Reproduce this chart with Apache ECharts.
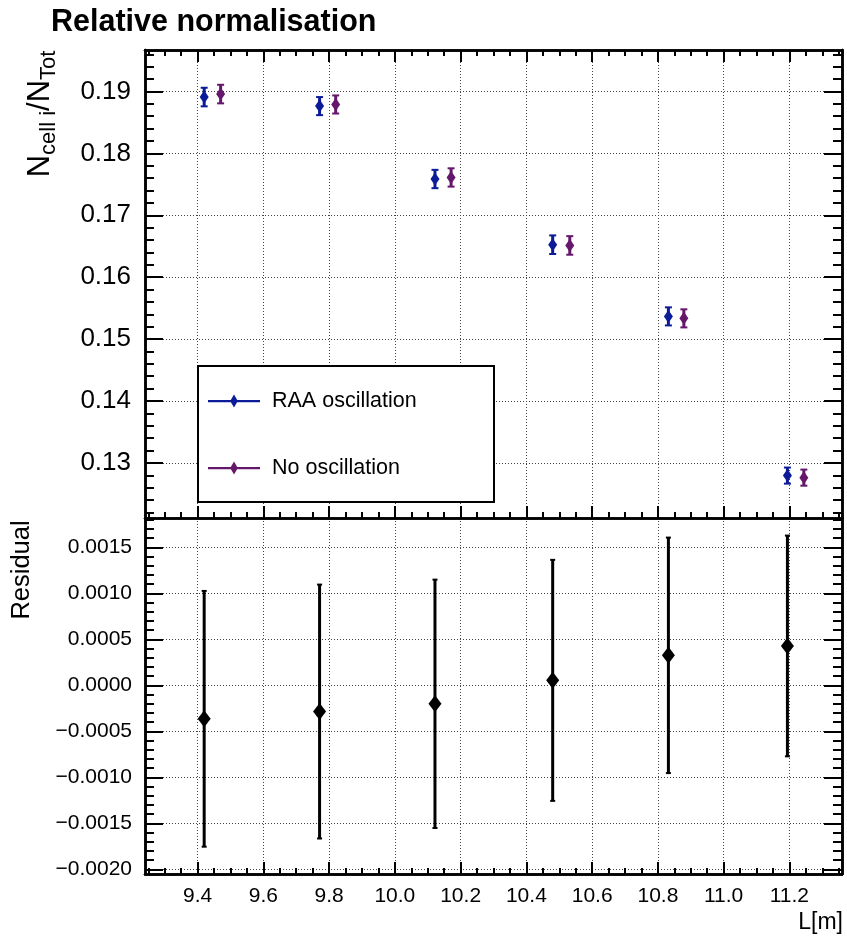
<!DOCTYPE html>
<html><head><meta charset="utf-8">
<script src="https://cdn.jsdelivr.net/npm/echarts@6/dist/echarts.min.js"></script>
<style>html,body{margin:0;padding:0;background:#fff}#c{width:847px;height:939px}</style>
</head><body><div id="c"></div>
<script>
// ---- data ----
const L_raa = [9.420, 9.771, 10.122, 10.480, 10.832, 11.194];
const L_noosc = [9.470, 9.820, 10.171, 10.532, 10.879, 11.244];
const ratio_raa = [0.18910, 0.18764, 0.17586, 0.16525, 0.15367, 0.12795];
const ratio_noosc = [0.18958, 0.18790, 0.17611, 0.16513, 0.15335, 0.12762];
const ratio_err = [0.00150, 0.00146, 0.00148, 0.00150, 0.00146, 0.00130];
const residual = [-0.000363, -0.000284, -0.000200, 0.000055, 0.000327, 0.000429];
const residual_err = [0.00139, 0.00138, 0.00135, 0.00131, 0.00128, 0.00120];
const xTicks = [9.4, 9.6, 9.8, 10.0, 10.2, 10.4, 10.6, 10.8, 11.0, 11.2];
const yTopTicks = [0.13, 0.14, 0.15, 0.16, 0.17, 0.18, 0.19];
const yResTicks = [-0.0020, -0.0015, -0.0010, -0.0005, 0.0000, 0.0005, 0.0010, 0.0015];
const seriesNames = ['RAA oscillation', 'No oscillation'];

// ---- styling / layout ----
const FONT = '"Liberation Sans", Arial, Helvetica, sans-serif';
const C_RAA = '#0c1c98', C_NO = '#65186b';
const X_MIN = 9.24, X_MAX = 11.36;
const YT_MIN = 0.1211, YT_MAX = 0.1967;
const YR_MIN = -0.00205, YR_MAX = 0.00182;

function minors(lo, hi, step, majors) {
  const out = [];
  const n0 = Math.ceil(lo / step - 1e-9), n1 = Math.floor(hi / step + 1e-9);
  for (let k = n0; k <= n1; k++) {
    const v = +(k * step).toFixed(10);
    if (v <= lo || v >= hi) continue;
    if (!majors.some(m => Math.abs(m - v) < step * 1e-3)) out.push(v);
  }
  return out;
}
const xMinor = minors(X_MIN, X_MAX, 0.05, xTicks);
const yTopMinor = minors(YT_MIN, YT_MAX, 0.002, yTopTicks);
const yResMinor = minors(YR_MIN, YR_MAX, 0.0001, yResTicks);

const gridLine = {show: true, lineStyle: {color: '#444', width: 1, type: [1, 2]}};

function mkAxis(dim, grid, pos, min, max, ticks, len, extra) {
  const a = {
    type: 'value', gridIndex: grid, position: pos, min: min, max: max,
    axisLine: {show: true, onZero: false, lineStyle: {color: '#000', width: 2.5}},
    axisTick: {show: true, inside: true, length: len, customValues: ticks, lineStyle: {color: '#000', width: 2}},
    axisLabel: {show: false},
    splitLine: {show: false},
    minorTick: {show: false}
  };
  return Object.assign(a, extra || {});
}

const xAxes = [
  mkAxis('x', 0, 'bottom', X_MIN, X_MAX, xTicks, 12, {splitLine: gridLine}),
  mkAxis('x', 0, 'bottom', X_MIN, X_MAX, xMinor, 6),
  mkAxis('x', 0, 'top', X_MIN, X_MAX, xTicks, 12),
  mkAxis('x', 0, 'top', X_MIN, X_MAX, xMinor, 6),
  mkAxis('x', 1, 'bottom', X_MIN, X_MAX, xTicks, 12, {
    splitLine: gridLine,
    axisLabel: {show: true, customValues: xTicks, margin: 12, fontSize: 21, fontFamily: FONT, color: '#000',
      formatter: v => v.toFixed(1)}
  }),
  mkAxis('x', 1, 'bottom', X_MIN, X_MAX, xMinor, 6)
];
const yAxes = [
  mkAxis('y', 0, 'left', YT_MIN, YT_MAX, yTopTicks, 18, {
    splitLine: gridLine,
    axisLabel: {show: true, customValues: yTopTicks, margin: 14, fontSize: 26, fontFamily: FONT, color: '#000',
      formatter: v => v.toFixed(2)}
  }),
  mkAxis('y', 0, 'left', YT_MIN, YT_MAX, yTopMinor, 9),
  mkAxis('y', 0, 'right', YT_MIN, YT_MAX, yTopTicks, 18),
  mkAxis('y', 0, 'right', YT_MIN, YT_MAX, yTopMinor, 9),
  mkAxis('y', 1, 'left', YR_MIN, YR_MAX, yResTicks, 18, {
    splitLine: gridLine,
    axisLabel: {show: true, customValues: yResTicks, margin: 13, fontSize: 21, fontFamily: FONT, color: '#000',
      formatter: v => (v < -1e-12 ? '\u2212' : '') + Math.abs(v).toFixed(4)}
  }),
  mkAxis('y', 1, 'left', YR_MIN, YR_MAX, yResMinor, 9),
  mkAxis('y', 1, 'right', YR_MIN, YR_MAX, yResTicks, 18),
  mkAxis('y', 1, 'right', YR_MIN, YR_MAX, yResMinor, 9)
];

function errRender(color, lw, capW, mW, mH) {
  return function (params, api) {
    const x = api.value(0), y = api.value(1), e = api.value(2);
    const c = api.coord([x, y]);
    const hi = api.coord([x, y + e])[1];
    const lo = api.coord([x, y - e])[1];
    const cw = capW / 2, mw = mW / 2, mh = mH / 2;
    return {
      type: 'group',
      children: [
        {type: 'line', shape: {x1: c[0], y1: hi, x2: c[0], y2: lo}, style: {stroke: color, lineWidth: lw}},
        {type: 'line', shape: {x1: c[0] - cw, y1: hi, x2: c[0] + cw, y2: hi}, style: {stroke: color, lineWidth: 2}},
        {type: 'line', shape: {x1: c[0] - cw, y1: lo, x2: c[0] + cw, y2: lo}, style: {stroke: color, lineWidth: 2}},
        {type: 'polygon', shape: {points: [[c[0], c[1] - mh], [c[0] + mw, c[1]], [c[0], c[1] + mh], [c[0] - mw, c[1]]]},
          style: {fill: color}}
      ]
    };
  };
}

const dRaa = L_raa.map((x, i) => [x, ratio_raa[i], ratio_err[i]]);
const dNo = L_noosc.map((x, i) => [x, ratio_noosc[i], ratio_err[i]]);
const dRes = L_raa.map((x, i) => [x, residual[i], residual_err[i]]);

const legendIcon = 'path://M0,6L52,6L52,8.2L0,8.2ZM26,0.5L29.8,7L26,13.5L22.2,7Z';

const option = {
  animation: false,
  backgroundColor: '#fff',
  title: {text: 'Relative normalisation', left: 46, top: 2,
    textStyle: {fontSize: 30.5, fontWeight: 'bold', fontFamily: FONT, color: '#000'}},
  grid: [
    {left: 145, top: 50, width: 697, height: 468},
    {left: 145, top: 518, width: 697, height: 356}
  ],
  xAxis: xAxes,
  yAxis: yAxes,
  legend: {
    orient: 'vertical', left: 208, top: 390, padding: 0,
    itemWidth: 52, itemHeight: 13, itemGap: 45, selectedMode: false,
    textStyle: {fontSize: 21.5, fontFamily: FONT, color: '#000', padding: [0, 0, 0, 7]},
    data: [{name: seriesNames[0], icon: legendIcon}, {name: seriesNames[1], icon: legendIcon}],
    z: 5
  },
  graphic: [
    {type: 'rect', left: 197, top: 365, z: 3,
      shape: {width: 296, height: 136}, style: {fill: '#fff', stroke: '#000', lineWidth: 2}},
    {type: 'text', x: 40, y: 114, rotation: Math.PI / 2, z: 3,
      style: {text: '{n|N}{s|cell i}{n|/N}{s|Tot}', align: 'center', verticalAlign: 'middle',
        rich: {
          n: {fontSize: 31, fontFamily: FONT, fill: '#000', lineHeight: 40, verticalAlign: 'middle'},
          s: {fontSize: 22, fontFamily: FONT, fill: '#000', lineHeight: 22, verticalAlign: 'bottom'}
        }}},
    {type: 'text', x: 22, y: 570, rotation: Math.PI / 2, z: 3,
      style: {text: 'Residual', fontSize: 25.5, fontFamily: FONT, fill: '#000', align: 'center', verticalAlign: 'middle'}},
    {type: 'text', x: 843, y: 923, z: 3,
      style: {text: 'L[m]', fontSize: 23, fontFamily: FONT, fill: '#000', align: 'right', verticalAlign: 'middle'}}
  ],
  series: [
    {name: seriesNames[0], type: 'custom', xAxisIndex: 0, yAxisIndex: 0, itemStyle: {color: C_RAA},
      renderItem: errRender(C_RAA, 3, 7, 9, 13), data: dRaa, z: 4},
    {name: seriesNames[1], type: 'custom', xAxisIndex: 0, yAxisIndex: 0, itemStyle: {color: C_NO},
      renderItem: errRender(C_NO, 3, 7, 9, 13), data: dNo, z: 4},
    {name: 'Residual', type: 'custom', xAxisIndex: 4, yAxisIndex: 4, itemStyle: {color: '#000'},
      renderItem: errRender('#000', 3, 5, 13, 17), data: dRes, z: 4}
  ]
};
const chart = echarts.init(document.getElementById('c'), null, {renderer: 'canvas'});
chart.setOption(option);
</script></body></html>
